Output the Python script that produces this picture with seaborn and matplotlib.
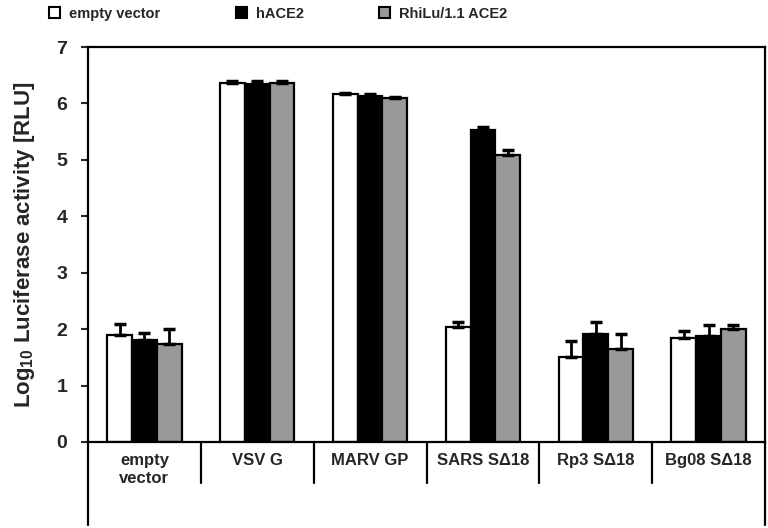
import numpy as np
import pandas as pd
import seaborn as sns
import matplotlib.pyplot as plt

# data
categories = ['empty\nvector', 'VSV G', 'MARV GP', 'SARS S\u039418', 'Rp3 S\u039418', 'Bg08 S\u039418']
receptors = ['empty vector', 'hACE2', 'RhiLu/1.1 ACE2']
empty_mean = [1.90, 6.37, 6.16, 2.04, 1.51, 1.85]
empty_top = [2.10, 6.40, 6.18, 2.13, 1.79, 1.97]
hace2_mean = [1.80, 6.35, 6.13, 5.53, 1.91, 1.87]
hace2_top = [1.93, 6.39, 6.16, 5.58, 2.13, 2.07]
rhilu_mean = [1.74, 6.37, 6.09, 5.09, 1.64, 2.00]
rhilu_top = [2.00, 6.39, 6.11, 5.18, 1.91, 2.07]
colors = ['white', 'black', '#999999']

df = pd.DataFrame({
    'virus': categories * 3,
    'receptor': [r for r in receptors for _ in categories],
    'value': empty_mean + hace2_mean + rhilu_mean,
    'top': empty_top + hace2_top + rhilu_top,
})

sns.set_theme(style="ticks")
plt.rcParams['font.family'] = ['Liberation Sans', 'DejaVu Sans']
plt.rcParams['font.weight'] = 'bold'
plt.rcParams['mathtext.fontset'] = 'custom'
plt.rcParams['mathtext.rm'] = 'Liberation Sans:bold'
plt.rcParams['mathtext.it'] = 'Liberation Sans:bold'

fig = plt.figure(figsize=(7.68, 5.28), dpi=100)
ax = fig.add_axes([88 / 768, 86 / 528, 677 / 768, 395 / 528])

sns.barplot(data=df, x='virus', y='value', hue='receptor', palette=colors,
            order=categories, hue_order=receptors, width=0.66,
            edgecolor='black', linewidth=1.6, errorbar=None, legend=False, ax=ax)

# one-sided (upper) error bars at the bar centres
for patch, (_, row) in zip(ax.patches, df.iterrows()):
    xc = patch.get_x() + patch.get_width() / 2
    ax.errorbar(xc, row['value'], yerr=[[0], [row['top'] - row['value']]],
                fmt='none', ecolor='black', elinewidth=2, capsize=4, capthick=2.5)

ax.set_ylim(0, 7)
ax.set_xlim(-0.5, len(categories) - 0.5)
ax.set_yticks(range(8))
ax.set_xlabel('')
ax.set_ylabel(r'Log$_{10}$ Luciferase activity [RLU]', fontsize=16, fontweight='bold', labelpad=14)
ax.tick_params(axis='y', direction='out', length=5, width=1.5, labelsize=14, pad=10)
ax.tick_params(axis='x', length=0, pad=8, labelsize=12)
for lab in ax.get_xticklabels() + ax.get_yticklabels():
    lab.set_fontweight('bold')
for sp in ax.spines.values():
    sp.set_visible(True)
    sp.set_linewidth(1.6)
    sp.set_color('black')

# separators under the x axis and extended side lines
trans = ax.get_xaxis_transform()
for b in np.arange(0.5, len(categories) - 0.5, 1.0):
    ax.plot([b, b], [0, -41 / 395], color='black', lw=1.6, transform=trans, clip_on=False)
for b in [-0.5, len(categories) - 0.5]:
    ax.plot([b, b], [0, -83 / 395], color='black', lw=1.6, transform=trans, clip_on=False)

handles = [plt.Rectangle((0, 0), 1, 1, facecolor=c, edgecolor='black', lw=1.5) for c in colors]
fig.legend(handles, receptors, loc='upper left', bbox_to_anchor=(36 / 768, 1.012), ncol=3,
           frameon=False, handlelength=0.75, handleheight=0.75, handletextpad=0.6,
           columnspacing=5.2, prop={'weight': 'bold', 'size': 10.5})

plt.savefig('out.png', dpi=100)
plt.close('all')
